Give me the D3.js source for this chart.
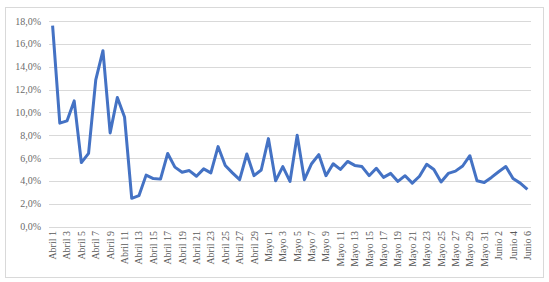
<!DOCTYPE html>
<html lang="es">
<head>
<meta charset="UTF-8">
<title>Serie diaria</title>
<script src="https://d3js.org/d3.v7.min.js"></script>
<style>
  body { margin: 0; background: #fff; }
  text { font-family: "Liberation Serif", "Times New Roman", serif; fill: #595959; }
</style>
</head>
<body>
<div id="chart"></div>
<script>
// categories: one per day, Abril 1 .. Junio 6
const months = [["Abril", 30], ["Mayo", 31], ["Junio", 6]];
const days = [];
months.forEach(([m, n]) => { for (let d = 1; d <= n; d++) days.push(m + " " + d); });

// daily values, in percent
const values = [
  17.6, 9.05, 9.25, 11.0, 5.6, 6.4, 12.85, 15.4, 8.2, 11.3,
  9.6, 2.47, 2.7, 4.5, 4.2, 4.15, 6.4, 5.2, 4.75, 4.9,
  4.4, 5.05, 4.7, 7.0, 5.35, 4.7, 4.1, 6.35, 4.45, 4.95,
  7.7, 4.0, 5.25, 3.95, 8.0, 4.1, 5.5, 6.3, 4.45, 5.5,
  5.0, 5.7, 5.35, 5.25, 4.45, 5.1, 4.3, 4.65, 3.95, 4.45,
  3.8, 4.4, 5.45, 5.0, 3.9, 4.65, 4.85, 5.3, 6.2, 4.0,
  3.85, 4.3, 4.8, 5.25, 4.2, 3.8, 3.25
];

const yTicks = [0, 2, 4, 6, 8, 10, 12, 14, 16, 18];

const W = 549, H = 282;
const svg = d3.select("#chart").append("svg")
  .attr("width", W).attr("height", H);

// chart frame
svg.append("rect")
  .attr("x", 5.5).attr("y", 7.5)
  .attr("width", 538).attr("height", 270)
  .attr("fill", "#fff").attr("stroke", "#d9d9d9");

const x = d3.scalePoint().domain(days).range([49, 531]).padding(0.5);
const y = d3.scaleLinear().domain([0, 18]).range([226.5, 21]);

// horizontal gridlines
svg.append("g").selectAll("line").data(yTicks).join("line")
  .attr("x1", 49).attr("x2", 531)
  .attr("y1", d => Math.round(y(d)) + 0.5).attr("y2", d => Math.round(y(d)) + 0.5)
  .attr("stroke", "#d9d9d9").attr("stroke-width", 1);

// y labels
svg.append("g").selectAll("text").data(yTicks).join("text")
  .attr("x", 41).attr("y", d => y(d) + 3.5)
  .attr("text-anchor", "end")
  .style("font-size", "10px")
  .style("fill", "#6b6b6b")
  .text(d => d.toFixed(1).replace(".", ",") + "%");

// x labels, every second day, rotated
const shown = days.filter((d, i) => i % 2 === 0);
svg.append("g").selectAll("text").data(shown).join("text")
  .attr("transform", d => `translate(${x(d) + 3.5},231) rotate(-90)`)
  .attr("text-anchor", "end")
  .style("font-size", "10px")
  .text(d => d);

// the line
svg.append("path")
  .datum(values)
  .attr("fill", "none")
  .attr("stroke", "#4472c4")
  .attr("stroke-width", 3)
  .attr("stroke-linejoin", "round")
  .attr("d", d3.line().x((d, i) => x(days[i])).y(d => y(d)));
</script>
</body>
</html>
